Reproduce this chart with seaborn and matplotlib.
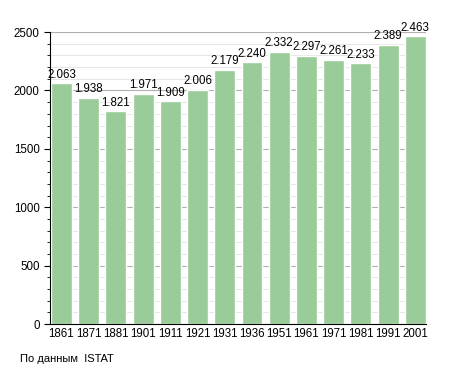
import numpy as np
import pandas as pd
import matplotlib
matplotlib.use("Agg")
import matplotlib.pyplot as plt
import seaborn as sns
from matplotlib.ticker import MultipleLocator

# Data
years = ["1861", "1871", "1881", "1901", "1911", "1921", "1931",
         "1936", "1951", "1961", "1971", "1981", "1991", "2001"]
population = [2063, 1938, 1821, 1971, 1909, 2006, 2179,
              2240, 2332, 2297, 2261, 2233, 2389, 2463]
labels = ["2.063", "1.938", "1.821", "1.971", "1.909", "2.006", "2.179",
          "2.240", "2.332", "2.297", "2.261", "2.233", "2.389", "2.463"]

df = pd.DataFrame({"year": years, "pop": population})

sns.set_style("white")
plt.rcParams["font.family"] = ["Liberation Sans", "DejaVu Sans"]
plt.rcParams["text.color"] = "black"
plt.rcParams["xtick.color"] = "black"
plt.rcParams["ytick.color"] = "black"

fig = plt.figure(figsize=(4.55, 3.73), dpi=100)
ax = fig.add_axes([0.11, 0.131, 0.826, 0.783])

# grid lines
ax.yaxis.set_major_locator(MultipleLocator(500))
ax.yaxis.set_minor_locator(MultipleLocator(100))
ax.grid(axis="y", which="major", color="#b0b0b0", linewidth=0.8)
ax.grid(axis="y", which="minor", color="#e6e6e6", linewidth=0.7)
ax.set_axisbelow(True)

sns.barplot(data=df, x="year", y="pop", color="#99cc99", saturation=1,
            width=0.77, ax=ax)

for i, (v, t) in enumerate(zip(population, labels)):
    ax.text(i, v + 22, t, ha="center", va="bottom", fontsize=8.3)

ax.set_ylim(0, 2500)
ax.set_xlim(-0.42, 13.39)
ax.set_xlabel("")
ax.set_ylabel("")
for s in ["top", "right"]:
    ax.spines[s].set_visible(False)
ax.spines["left"].set_color("black")
ax.spines["bottom"].set_color("black")
ax.tick_params(axis="y", which="major", length=4, width=0.8, labelsize=8.3, left=True)
ax.tick_params(axis="y", which="minor", length=2.5, width=0.6, left=True)
ax.tick_params(axis="x", length=0, labelsize=8.3, pad=3)

fig.text(0.044, 0.03, "По данным  ISTAT", fontsize=8)

fig.savefig("out.png", dpi=100)
